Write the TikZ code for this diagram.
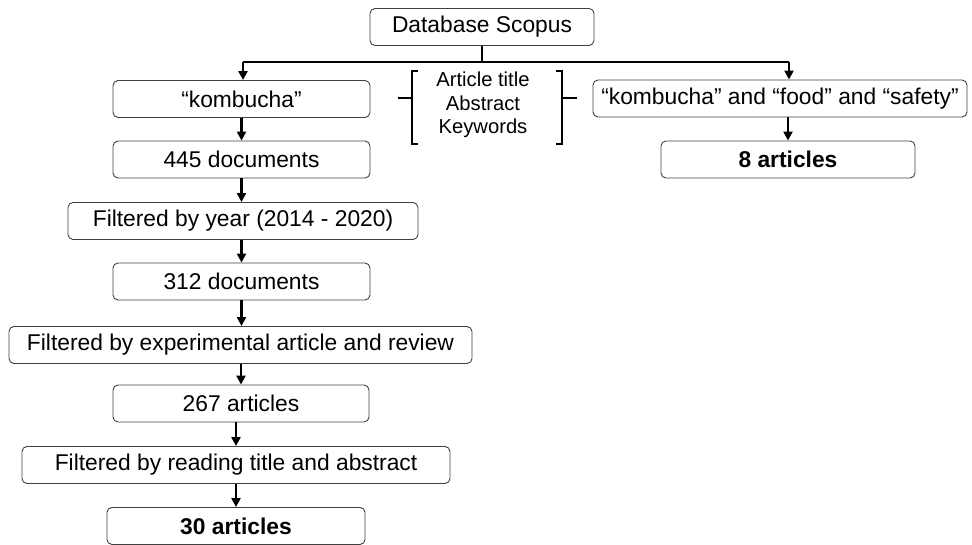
\documentclass[tikz,border=0pt]{standalone}
\usepackage{fontspec}
\setmainfont{Liberation Sans}
\usetikzlibrary{arrows.meta}
\begin{document}
\begin{tikzpicture}[x=1pt,y=-1pt,
  box/.style={draw=black!75,line width=0.9pt,rounded corners=5pt,inner sep=0pt,
    font=\fontsize{22.8}{26}\selectfont,anchor=center,minimum height=37pt},
  bbox/.style={box,font=\fontsize{22.8}{26}\selectfont\bfseries},
  arr/.style={line width=2.5pt,-{Triangle[length=9pt,width=9pt]}},
  ln/.style={line width=2.2pt},
  brk/.style={line width=2pt}]
\useasboundingbox (0,0) rectangle (972,545);
\node[box,minimum width=224pt] (db) at (482,27) {Database Scopus};
\node[box,minimum width=257pt] (kw) at (241.5,99) {“kombucha”};
\node[box,minimum width=257pt] (d445) at (241.5,159.5) {445 documents};
\node[box,minimum width=350pt] (yr) at (243,221) {Filtered by year (2014 - 2020)};
\node[box,minimum width=257pt] (d312) at (241.5,281.5) {312 documents};
\node[box,minimum width=463pt] (ex) at (240.5,345) {Filtered by experimental article and review};
\node[box,minimum width=256pt] (a267) at (241,403.5) {267 articles};
\node[box,minimum width=428pt] (rd) at (236,465) {Filtered by reading title and abstract};
\node[bbox,minimum width=258pt] (a30) at (236,526) {30 articles};
\node[box,minimum width=374pt] (kfs) at (780,98.5) {“kombucha” and “food” and “safety”};
\node[bbox,minimum width=254pt] (a8) at (788,159.5) {8 articles};
\node[align=center,font=\fontsize{20.2}{23.5}\selectfont,inner sep=0pt] (fields) at (483,105) {Article title\\Abstract\\Keywords};
% top distribution
\coordinate (j) at (482,62);
\coordinate (jl) at (243,62);
\coordinate (jr) at (789,62);
\draw[ln] (db.south) -- (j);
\draw[ln] (jl) -- (jr);
\draw[arr] (jl) -- (jl |- kw.north);
\draw[arr] (jr) -- (jr |- kfs.north);
% left chain
\draw[arr] (kw.south) -- (d445.north);
\draw[arr] (d445.south) -- (d445.south |- yr.north);
\draw[arr] (d445.south |- yr.south) -- (d312.north);
\draw[arr] (d312.south) -- (d312.south |- ex.north);
\draw[arr] (a267.north |- ex.south) -- (a267.north);
\draw[arr] (rd.north |- a267.south) -- (rd.north);
\draw[arr] (rd.south) -- (a30.north);
% right chain
\draw[arr] (a8.north |- kfs.south) -- (a8.north);
% brackets
\draw[brk] (418,71) -- (412,71) -- (412,144) -- (418,144);
\draw[brk] (398,98) -- (412,98);
\draw[brk] (556,71) -- (562,71) -- (562,144) -- (556,144);
\draw[brk] (562,98) -- (577,98);
\end{tikzpicture}
\end{document}
